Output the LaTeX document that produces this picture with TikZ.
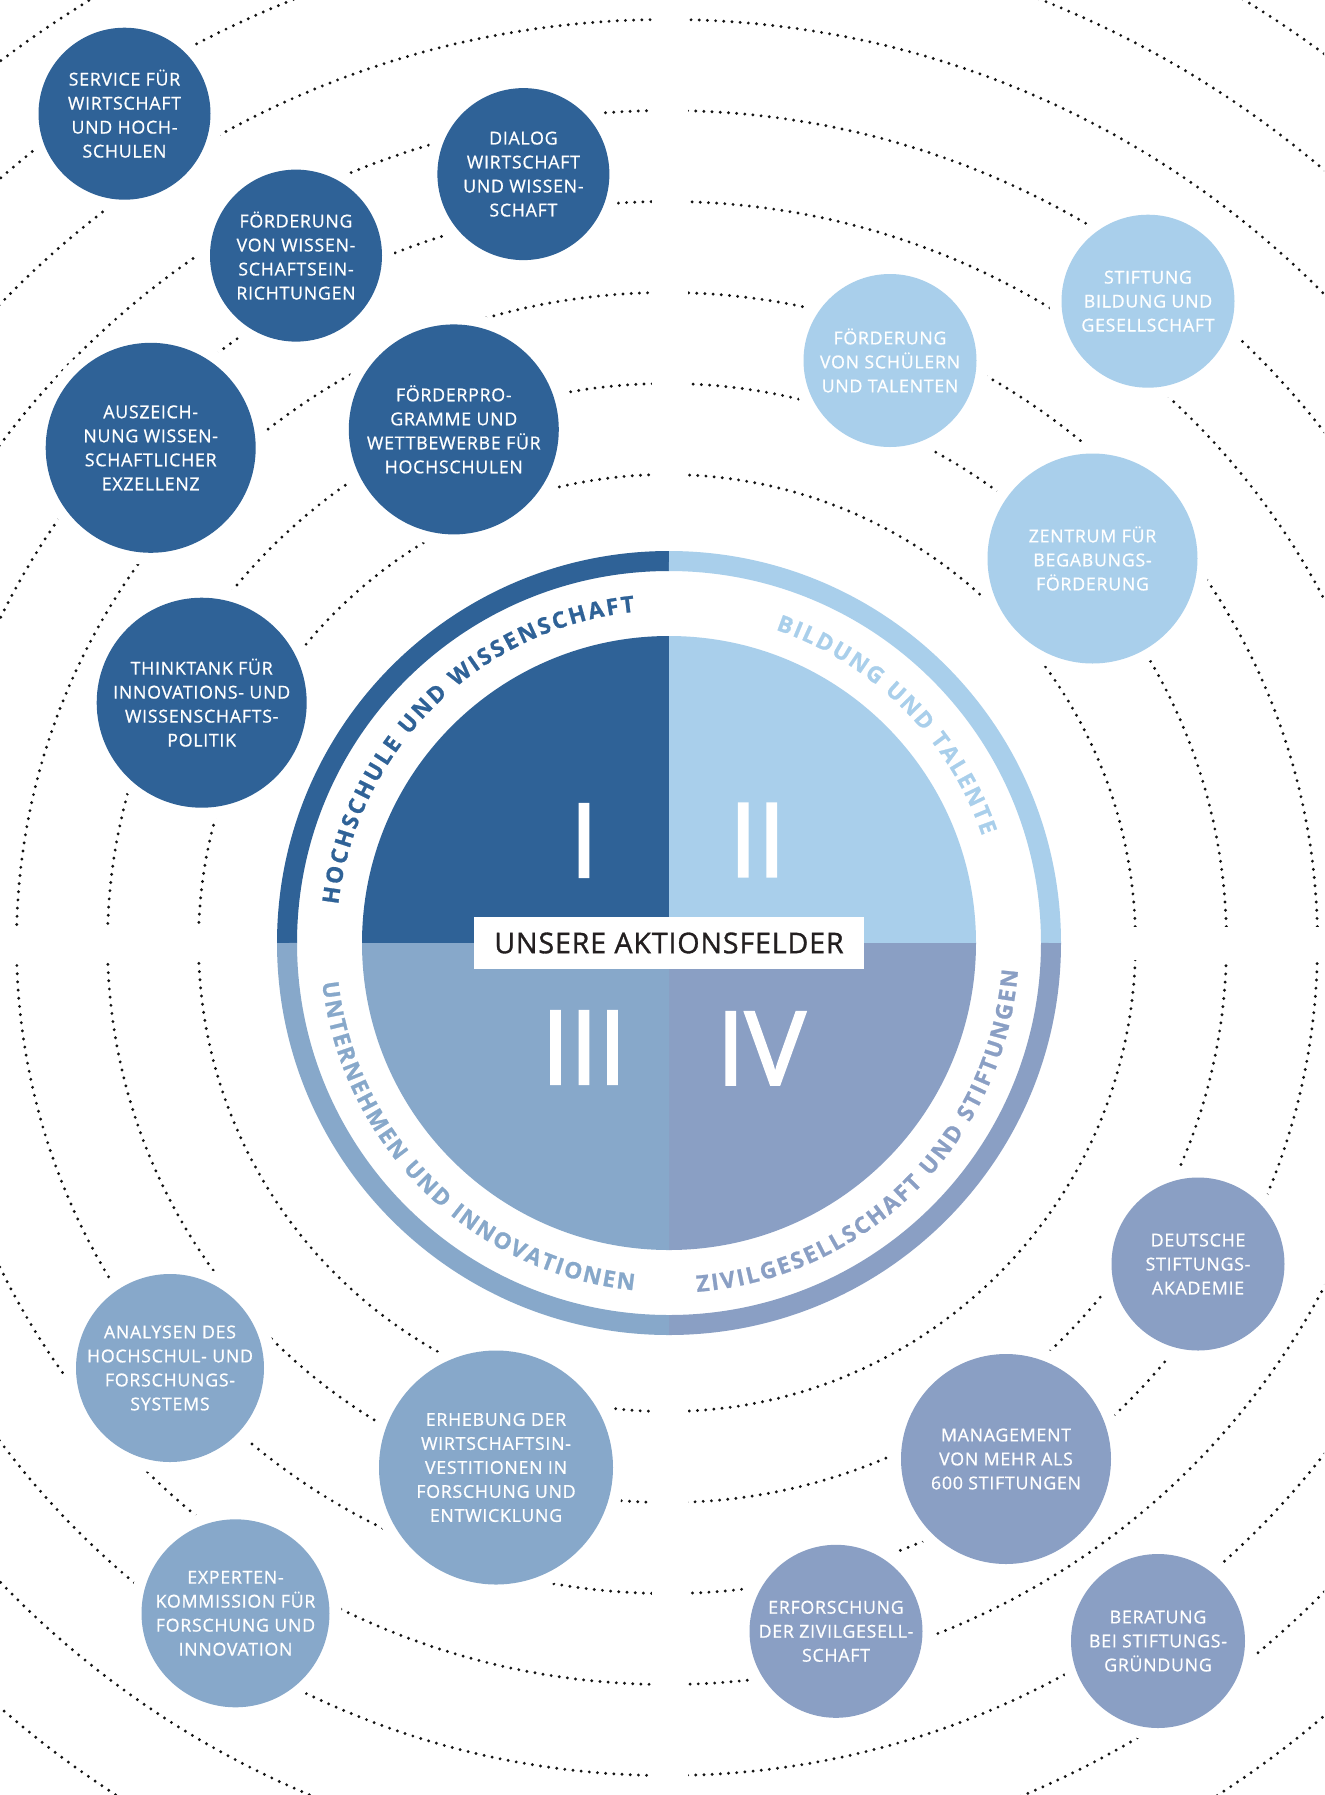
\documentclass[tikz,border=0pt]{standalone}
\usepackage{fontspec}
\setmainfont{Open Sans}
\newfontfamily\bubfont[LetterSpace=4,FakeBold=0.8]{Open Sans}
\newfontfamily\ringfont[FakeBold=1]{Open Sans Bold}
\newfontfamily\labfont[LetterSpace=3,FakeBold=1.1]{Open Sans}
\newfontfamily\numfont[FakeBold=2.2]{Open Sans}
\usetikzlibrary{decorations.text}
\definecolor{cI}{HTML}{2F6297}
\definecolor{cII}{HTML}{A9CFEB}
\definecolor{cIII}{HTML}{87A8CA}
\definecolor{cIV}{HTML}{8A9FC4}
\definecolor{dotc}{HTML}{141414}
\definecolor{labc}{HTML}{231F20}
\begin{document}
\begin{tikzpicture}[x=0.5pt,y=0.5pt,
  bub/.style={circle, inner sep=0pt, fill=#1, preaction={draw=white, line width=12pt}},
  btxt/.style={align=center, text=white, inner sep=0pt, font=\bubfont\fontsize{8.9pt}{12pt}\selectfont},
  dots/.style={draw=dotc, line width=1.6pt, line cap=round, dash pattern=on 0pt off 4.1pt},
  ringarc/.style={line width=10pt},
  numeral/.style={text=white, inner sep=0pt, font=\numfont\fontsize{51pt}{51pt}\selectfont}]
\fill[white] (0,0) rectangle (1324,-1795);
\useasboundingbox (0,0) rectangle (1324,-1795);
\coordinate (C) at (669,-943);
\coordinate (D) at (667,-943);
% dotted orbits
\begin{scope}
\clip (0,0) rectangle (1324,-1795);
\foreach \r in {468.5,559.5,650.5,741.5,832.5,923.5,1014.5,1105.5}
  \draw[dots] (D) circle[radius=\r];
\end{scope}
% gaps along the axes
\fill[white] (652,0) rectangle (688,-1795);
\fill[white] (0,-927) rectangle (1324,-960);
% bubbles: Hochschule und Wissenschaft
\node[bub=cI, minimum size=86pt] (b1) at (124.5,-113.7) {};
\node[btxt] (b1t) at (b1) {SERVICE FÜR\\WIRTSCHAFT\\UND HOCH-\\SCHULEN};
\node[bub=cI, minimum size=86pt] (b2) at (523.4,-174.1) {};
\node[btxt] (b2t) at (b2) {DIALOG\\WIRTSCHAFT\\UND WISSEN-\\SCHAFT};
\node[bub=cI, minimum size=86pt] (b3) at (296,-255.6) {};
\node[btxt] (b3t) at (b3) {FÖRDERUNG\\VON WISSEN-\\SCHAFTSEIN-\\RICHTUNGEN};
\node[bub=cI, minimum size=105pt] (b4) at (150.7,-447.8) {};
\node[btxt] (b4t) at (b4) {AUSZEICH-\\NUNG WISSEN-\\SCHAFTLICHER\\EXZELLENZ};
\node[bub=cI, minimum size=105pt] (b5) at (453.8,-429.4) {};
\node[btxt] (b5t) at (b5) {FÖRDERPRO-\\GRAMME UND\\WETTBEWERBE FÜR\\HOCHSCHULEN};
\node[bub=cI, minimum size=105pt] (b6) at (201.7,-702.7) {};
\node[btxt] (b6t) at (b6) {THINKTANK FÜR\\INNOVATIONS- UND\\WISSENSCHAFTS-\\POLITIK};
% Bildung und Talente
\node[bub=cII, minimum size=86.5pt] (b7) at (1148,-301.2) {};
\node[btxt] (b7t) at (b7) {STIFTUNG\\BILDUNG UND\\GESELLSCHAFT};
\node[bub=cII, minimum size=86.5pt] (b8) at (890,-360.5) {};
\node[btxt] (b8t) at (b8) {FÖRDERUNG\\VON SCHÜLERN\\UND TALENTEN};
\node[bub=cII, minimum size=105pt] (b9) at (1092.5,-558.5) {};
\node[btxt] (b9t) at (b9) {ZENTRUM FÜR\\BEGABUNGS-\\FÖRDERUNG};
% Unternehmen und Innovationen
\node[bub=cIII, minimum size=94pt] (b10) at (170,-1368) {};
\node[btxt] (b10t) at (b10) {ANALYSEN DES\\HOCHSCHUL- UND\\FORSCHUNGS-\\SYSTEMS};
\node[bub=cIII, minimum size=117pt] (b11) at (496,-1467.5) {};
\node[btxt] (b11t) at (b11) {ERHEBUNG DER\\WIRTSCHAFTSIN-\\VESTITIONEN IN\\FORSCHUNG UND\\ENTWICKLUNG};
\node[bub=cIII, minimum size=94pt] (b12) at (235.5,-1613.3) {};
\node[btxt] (b12t) at (b12) {EXPERTEN-\\KOMMISSION FÜR\\FORSCHUNG UND\\INNOVATION};
% Zivilgesellschaft und Stiftungen
\node[bub=cIV, minimum size=86.5pt] (b13) at (1198,-1264) {};
\node[btxt] (b13t) at (b13) {DEUTSCHE\\STIFTUNGS-\\AKADEMIE};
\node[bub=cIV, minimum size=105pt] (b14) at (1006,-1459) {};
\node[btxt] (b14t) at (b14) {MANAGEMENT\\VON MEHR ALS\\600 STIFTUNGEN};
\node[bub=cIV, minimum size=86.5pt] (b15) at (836,-1631.3) {};
\node[btxt] (b15t) at (b15) {ERFORSCHUNG\\DER ZIVILGESELL-\\SCHAFT};
\node[bub=cIV, minimum size=87pt] (b16) at (1158,-1641) {};
\node[btxt] (b16t) at (b16) {BERATUNG\\BEI STIFTUNGS-\\GRÜNDUNG};
% outer ring
\draw[ringarc, cI]   (C) ++(180:382) arc[start angle=180, end angle=90,  radius=382];
\draw[ringarc, cII]  (C) ++(90:382)  arc[start angle=90,  end angle=0,   radius=382];
\draw[ringarc, cIV]  (C) ++(0:382)   arc[start angle=0,   end angle=-90, radius=382];
\draw[ringarc, cIII] (C) ++(270:382) arc[start angle=270, end angle=180, radius=382];
% pie
\fill[cI]   (C) -- ++(180:307) arc[start angle=180, end angle=90,  radius=307] -- cycle;
\fill[cII]  (C) -- ++(90:307)  arc[start angle=90,  end angle=0,   radius=307] -- cycle;
\fill[cIV]  (C) -- ++(0:307)   arc[start angle=0,   end angle=-90, radius=307] -- cycle;
\fill[cIII] (C) -- ++(270:307) arc[start angle=270, end angle=180, radius=307] -- cycle;
% ring labels
\path[decorate, decoration={text along path, text align={fit to path},
  text=|\ringfont\fontsize{11.3pt}{11.3pt}\selectfont\color{cI}|HOCHSCHULE UND WISSENSCHAFT}]
  (C) ++(173.4:333) arc[start angle=173.4, end angle=95.9, radius=333];
\path[decorate, decoration={text along path, text align={fit to path},
  text=|\ringfont\fontsize{11.3pt}{11.3pt}\selectfont\color{cII}|BILDUNG UND TALENTE}]
  (C) ++(71.2:331) arc[start angle=71.2, end angle=18.9, radius=331];
\path[decorate, decoration={text along path, text align={fit to path},
  text=|\ringfont\fontsize{11.3pt}{11.3pt}\selectfont\color{cIII}|UNTERNEHMEN UND INNOVATIONEN}]
  (C) ++(186.5:349) arc[start angle=186.5, end angle=264.2, radius=349];
\path[decorate, decoration={text along path, text align={fit to path},
  text=|\ringfont\fontsize{11.3pt}{11.3pt}\selectfont\color{cIV}|ZIVILGESELLSCHAFT UND STIFTUNGEN}]
  (C) ++(274.6:350) arc[start angle=274.6, end angle=355.5, radius=350];
% numerals
\node[numeral] (n1) at (584,-840.5) {I};
\node[numeral] (n2) at (757.5,-840) {II};
\node[numeral] (n3) at (584,-1047.5) {III};
\node[numeral] (n4) at (761,-1048.4) {IV};
% label
\node[fill=white, minimum width=195pt, minimum height=26.3pt, inner sep=0pt,
  text=labc, font=\labfont\fontsize{14.3pt}{14.3pt}\selectfont] (lab) at (C) {UNSERE AKTIONSFELDER};
\end{tikzpicture}
\end{document}
